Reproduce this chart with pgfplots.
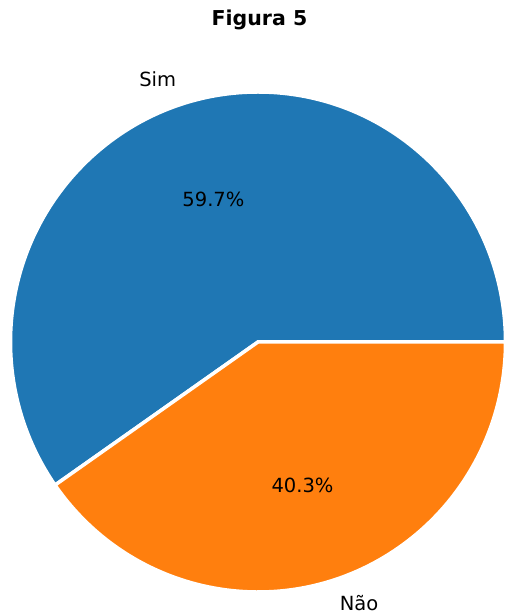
\documentclass[border=0pt]{standalone}
\usepackage{pgfplots}
\usepackage{pgfplotstable}
\usepackage{fontspec}
\setmainfont{DejaVu Sans}
\pgfplotsset{compat=1.18}
\definecolor{mplblue}{HTML}{1F77B4}
\definecolor{mplorange}{HTML}{FF7F0E}
\pgfplotstableread{
label value
Sim 59.7
Nao 40.3
}\piedata
\begin{document}
\begin{tikzpicture}
\pgfplotstablegetelem{0}{value}\of\piedata \let\vA\pgfplotsretval
\pgfplotstablegetelem{1}{value}\of\piedata \let\vB\pgfplotsretval
\pgfmathsetmacro\tot{\vA+\vB}
\pgfmathsetmacro\aA{\vA/\tot*360}
\pgfmathsetmacro\mA{\aA/2}
\pgfmathsetmacro\mB{\aA+\vB/\tot*180}
\begin{axis}[
  at={(0,0)}, anchor=south west,
  scale only axis, width=505pt, height=614pt,
  xmin=0, xmax=505, ymin=0, ymax=614,
  hide axis, clip=true,
]
\def\cx{258}\def\cy{272}\def\Rx{247.5}\def\Ry{250}
\fill[mplblue, draw=white, line width=3.5pt, line join=miter]
  (axis cs:\cx,\cy) -- ++(\Rx pt,0pt) arc[start angle=0, end angle=\aA, x radius=\Rx pt, y radius=\Ry pt] -- cycle;
\fill[mplorange, draw=white, line width=3.5pt, line join=miter]
  (axis cs:\cx,\cy) -- ++({cos(\aA)*\Rx pt},{sin(\aA)*\Ry pt}) arc[start angle=\aA, end angle=360, x radius=\Rx pt, y radius=\Ry pt] -- cycle;
% labels
\node[anchor=east, font=\fontsize{19.5}{20}\selectfont, inner sep=0pt]
  at (axis cs:\cx,\cy) [shift={({1.1*cos(\mA)*\Rx pt},{1.1*sin(\mA)*\Ry pt})}] {Sim};
\node[anchor=west, font=\fontsize{19.5}{20}\selectfont, inner sep=0pt]
  at (axis cs:\cx,\cy) [shift={({1.1*cos(\mB)*\Rx pt},{1.1*sin(\mB)*\Ry pt})}, yshift=1pt] {Não};
\node[anchor=center, font=\fontsize{19.5}{20}\selectfont, inner sep=0pt]
  at (axis cs:\cx,\cy) [shift={({0.6*cos(\mA)*\Rx pt},{0.6*sin(\mA)*\Ry pt})}] {59.7\%};
\node[anchor=center, font=\fontsize{19.5}{20}\selectfont, inner sep=0pt]
  at (axis cs:\cx,\cy) [shift={({0.6*cos(\mB)*\Rx pt},{0.6*sin(\mB)*\Ry pt})}] {40.3\%};
\node[anchor=base, font=\bfseries\fontsize{20.5}{22}\selectfont, inner sep=0pt]
  at (axis cs:259.5,588) {Figura 5};
\end{axis}
\pgfresetboundingbox
\path (0,0) rectangle (505pt,614pt);
\end{tikzpicture}
\end{document}
